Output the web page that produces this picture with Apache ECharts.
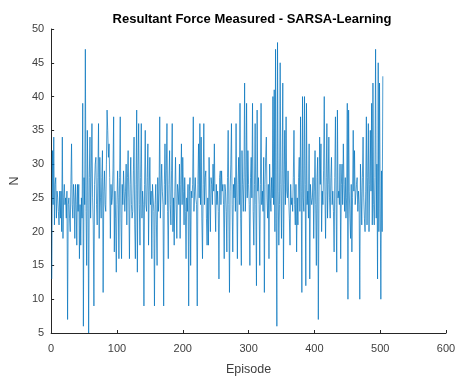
<!DOCTYPE html>
<html><head><meta charset="utf-8">
<script src="https://cdn.jsdelivr.net/npm/echarts@6/dist/echarts.min.js"></script>
<style>html,body{margin:0;padding:0;background:#fff}#c{width:459px;height:381px}</style>
</head><body><div id="c"></div>
<script>
const titleText = 'Resultant Force Measured - SARSA-Learning';
const xName = 'Episode';
const yName = 'N';
const xTicks = [0, 100, 200, 300, 400, 500, 600];
const yTicks = [5, 10, 15, 20, 25, 30, 35, 40, 45, 50];
const force = [
13,32,24,34,21,27,28,22,26,25,
23,21,26,22,26,20,34,19,25,27,
24,25,22,26,7,24,25,22,20,27,
33,24,22,27,25,19,27,24,18,27,
23,27,16,24,18,25,22,39,6,28,
24,47,23,15,35,26,5,28,34,22,
22,36,25,21,9,27,30,31,24,21,
28,36,19,31,25,22,28,32,11,26,
29,24,23,30,38,35,31,33,28,19,
27,24,25,29,37,17,26,22,14,24,
29,25,16,28,37,22,16,27,24,29,
26,23,26,30,21,28,32,25,16,27,
31,24,22,23,29,34,21,16,27,38,
14,29,36,24,18,28,36,22,26,24,
9,27,35,24,23,28,33,18,26,31,
24,26,16,27,25,23,9,24,27,21,
15,28,23,26,37,22,26,30,26,24,
9,27,33,24,29,36,23,16,27,32,
24,21,29,36,20,25,18,26,31,24,
19,27,26,24,30,19,27,33,24,31,
26,21,28,23,16,25,23,27,9,26,
28,15,26,25,27,37,23,26,28,25,
24,9,27,33,25,36,24,34,22,16,
27,36,24,28,29,22,18,25,18,31,
25,20,28,27,24,30,26,33,25,20,
27,24,26,23,13,28,29,24,29,26,
27,24,16,27,26,23,17,28,35,24,
11,26,30,36,24,17,27,25,28,23,
36,25,16,27,31,24,39,22,15,32,
27,23,28,42,23,26,39,25,32,27,
24,15,28,31,25,39,23,18,27,36,
24,12,38,26,28,24,15,27,39,24,
26,23,31,11,27,31,34,25,22,27,
16,30,25,23,28,25,40,24,41,20,
47,22,6,48,26,18,24,45,27,19,
29,42,13,27,35,24,37,26,25,29,
25,22,18,27,24,25,23,28,35,24,
21,27,17,25,21,28,31,23,37,26,
11,40,25,23,40,27,12,39,24,26,
22,33,13,27,25,24,25,28,19,26,
32,24,15,28,31,7,25,34,27,33,
20,26,24,29,40,26,19,28,36,22,
27,34,25,22,28,31,24,26,23,17,
28,37,24,14,38,25,26,24,30,16,
27,30,24,33,27,23,28,22,25,39,
10,38,26,22,19,27,17,25,35,26,
32,24,24,27,28,23,26,24,10,30,
26,21,28,34,25,22,20,26,37,21,
28,36,20,27,35,26,39,21,42,24,
21,28,47,22,30,13,45,20,42,25,
10,29,20,43
];
const seriesData = force.map((v, i) => [i + 1, v]);

const axisColor = '#262626';
const labelColor = '#404040';
const font = 'Liberation Sans, Arial, Helvetica, sans-serif';

const chart = echarts.init(document.getElementById('c'), null, {renderer: 'canvas'});
chart.setOption({
  animation: false,
  backgroundColor: '#ffffff',
  title: {
    text: titleText,
    left: 247, top: 8, textAlign: 'center',
    textStyle: {fontFamily: font, fontSize: 13, fontWeight: 'bold', color: '#000'}
  },
  grid: {left: 50, right: 13, top: 29, bottom: 41, containLabel: false},
  xAxis: {
    type: 'value', min: xTicks[0], max: xTicks[xTicks.length - 1], interval: 100,
    name: xName, nameLocation: 'middle', nameGap: 30,
    nameTextStyle: {fontFamily: font, fontSize: 12.5, color: labelColor},
    axisLine: {show: true, lineStyle: {color: axisColor, width: 1}},
    axisTick: {show: true, inside: true, length: 3, lineStyle: {color: axisColor}},
    axisLabel: {fontFamily: font, fontSize: 11, color: labelColor, margin: 10},
    splitLine: {show: false}
  },
  yAxis: {
    type: 'value', min: yTicks[0], max: yTicks[yTicks.length - 1], interval: 5,
    name: yName, nameLocation: 'middle', nameGap: 27, nameRotate: 90,
    nameTextStyle: {fontFamily: font, fontSize: 12.5, color: labelColor},
    axisLine: {show: true, lineStyle: {color: axisColor, width: 1}},
    axisTick: {show: true, inside: true, length: 3, lineStyle: {color: axisColor}},
    axisLabel: {fontFamily: font, fontSize: 11, color: labelColor, margin: 7},
    splitLine: {show: false}
  },
  series: [{
    type: 'line', data: seriesData, showSymbol: false, symbol: 'none',
    lineStyle: {color: '#0072BD', width: 0.7},
    clip: true
  }]
});
</script>
</body></html>
